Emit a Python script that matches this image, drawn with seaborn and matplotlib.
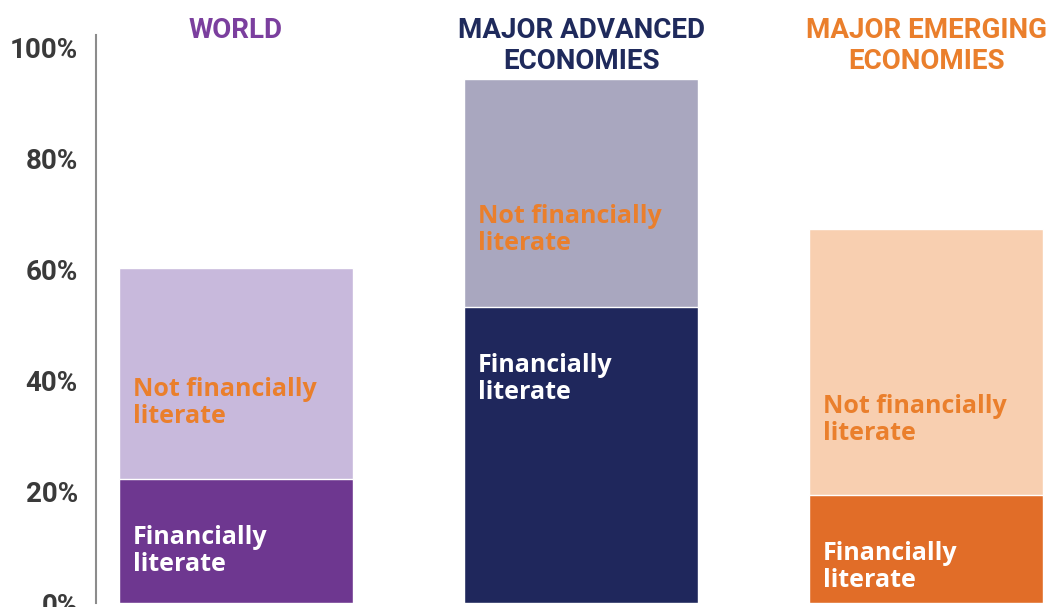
import matplotlib
matplotlib.use("Agg")
import matplotlib.pyplot as plt
import seaborn as sns
import pandas as pd

# Data (percent of adults)
groups = ["WORLD", "MAJOR ADVANCED\nECONOMIES", "MAJOR EMERGING\nECONOMIES"]
total_share = [60.4, 94.4, 67.4]        # top of the light bar
literate_share = [22.3, 53.3, 19.5]     # top of the dark bar
y_ticks = [0, 20, 40, 60, 80, 100]

# Styling
dark_colors = ["#6E3790", "#1F275C", "#E16D28"]
light_colors = ["#C8B9DC", "#A9A7BF", "#F8CFB0"]
title_colors = ["#7B3F9E", "#1F2A5C", "#EA7F2C"]
label_orange = "#EA7F2C"
# vertical centre of the in-bar labels (data units)
lit_label_y = [9.4, 40.4, 6.5]
not_label_y = [36.1, 67.1, 33.0]

df = pd.DataFrame({"group": groups, "total": total_share, "literate": literate_share})

sns.set_style("white")
plt.rcParams["font.family"] = ["Roboto", "DejaVu Sans"]

fig = plt.figure(figsize=(10.5, 6.07), dpi=100)
ax = fig.add_axes([96 / 1050, 4 / 607, 1 - 96 / 1050, (603 - 35) / 607])

bar_w = 0.678
sns.barplot(data=df, x="group", y="total", hue="group", palette=light_colors,
            width=bar_w, legend=False, saturation=1, ax=ax)
sns.barplot(data=df, x="group", y="literate", hue="group", palette=dark_colors,
            width=bar_w, legend=False, saturation=1, ax=ax)

ax.set_xlim(-0.406, -0.406 + 954 / 345)
ax.set_ylim(0, 102.3)

# in-bar labels
lbl_font = ["Open Sans", "Roboto", "DejaVu Sans"]
for i in range(len(groups)):
    x_left = i - bar_w / 2 + 0.04
    ax.text(x_left, not_label_y[i], "Not financially\nliterate", color=label_orange,
            fontsize=18, fontweight="bold", ha="left", va="center", linespacing=1.1,
            family=lbl_font)
    ax.text(x_left, lit_label_y[i], "Financially\nliterate", color="white",
            fontsize=18, fontweight="bold", ha="left", va="center", linespacing=1.1,
            family=lbl_font)

# group headings above the plot
for i, g in enumerate(groups):
    ax.text(i, 105.5, g, color=title_colors[i], fontsize=20, fontweight="bold",
            ha="center", va="top", linespacing=1.2, clip_on=False)

ax.set_yticks(y_ticks)
ax.set_yticklabels([f"{t}%" for t in y_ticks], fontsize=20, fontweight="bold", color="#3A3A3A")
ax.tick_params(axis="y", length=0, pad=13)
ax.set_xticks([])
ax.set_xlabel("")
ax.set_ylabel("")

for side in ["top", "right", "bottom"]:
    ax.spines[side].set_visible(False)
ax.spines["left"].set_color("#8C8C8C")
ax.spines["left"].set_linewidth(1.5)

fig.savefig("out.png", dpi=100)
